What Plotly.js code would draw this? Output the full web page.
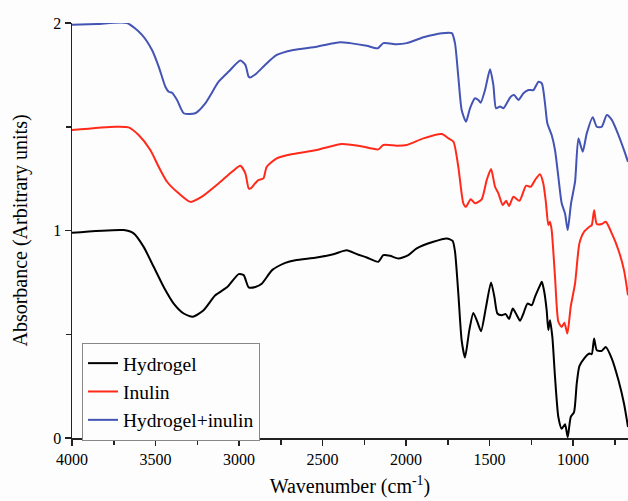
<!DOCTYPE html>
<html>
<head>
<meta charset="utf-8">
<script src="https://cdn.plot.ly/plotly-3.0.1.min.js"></script>
<style>html,body{margin:0;padding:0;background:#fdfdfd;}#chart{width:628px;height:501px;}</style>
</head>
<body>
<div id="chart"></div>
<script>
// Hydrogel (black)
const hydrogelWn = [4000,3691,3631,3571,3511,3451,3391,3331,3277,3212,3142,3072,3002,2972,2942,2902,2862,2802,2723,2663,2535,2435,2355,2295,2235,2166,2136,2096,2046,1986,1936,1836,1756,1721,1707,1687,1667,1647,1621,1597,1573,1551,1521,1491,1471,1453,1427,1403,1383,1361,1337,1317,1297,1273,1247,1228,1202,1187,1174,1158,1148,1138,1124,1108,1088,1068,1048,1032,1014,994,978,962,934,902,888,874,858,828,804,768,728,695,671];
const hydrogelAbs = [0.989,1.002,0.986,0.921,0.825,0.728,0.648,0.600,0.584,0.616,0.688,0.726,0.790,0.785,0.726,0.728,0.745,0.809,0.844,0.857,0.870,0.886,0.905,0.886,0.870,0.849,0.881,0.878,0.865,0.881,0.914,0.946,0.962,0.950,0.900,0.697,0.471,0.388,0.520,0.603,0.560,0.515,0.632,0.750,0.680,0.600,0.592,0.597,0.573,0.624,0.592,0.565,0.600,0.648,0.640,0.680,0.728,0.753,0.712,0.616,0.520,0.568,0.487,0.294,0.101,0.045,0.066,0.005,0.101,0.125,0.262,0.346,0.383,0.407,0.404,0.479,0.423,0.420,0.439,0.383,0.278,0.166,0.053];

// Inulin (red)
const inulinWn = [4000,3741,3661,3601,3531,3481,3431,3361,3291,3222,3122,3042,2992,2962,2942,2930,2904,2884,2854,2834,2774,2675,2535,2385,2275,2166,2136,2056,1996,1896,1786,1746,1716,1687,1657,1641,1613,1587,1547,1517,1491,1467,1447,1421,1401,1383,1357,1321,1281,1253,1228,1198,1178,1162,1148,1138,1128,1108,1088,1068,1052,1034,1014,988,962,934,902,888,874,858,828,804,768,728,695,671];
const inulinAbs = [1.484,1.500,1.497,1.460,1.388,1.307,1.235,1.179,1.138,1.163,1.227,1.283,1.312,1.275,1.203,1.203,1.227,1.243,1.251,1.307,1.348,1.369,1.388,1.417,1.407,1.391,1.412,1.409,1.412,1.444,1.465,1.444,1.428,1.307,1.131,1.114,1.151,1.131,1.150,1.243,1.296,1.211,1.179,1.123,1.143,1.118,1.163,1.143,1.216,1.211,1.243,1.271,1.227,1.131,1.026,1.042,1.002,0.777,0.560,0.535,0.555,0.504,0.632,0.745,0.938,0.994,1.018,1.026,1.098,1.031,1.031,1.042,0.986,0.905,0.809,0.688];

// Hydrogel+inulin (blue)
const mixWn = [4000,3850,3671,3581,3521,3481,3441,3421,3401,3371,3331,3262,3202,3122,3062,2992,2962,2942,2930,2894,2844,2774,2675,2535,2395,2335,2235,2170,2136,2056,1996,1896,1786,1726,1707,1687,1667,1641,1617,1587,1567,1553,1527,1497,1477,1461,1437,1417,1397,1373,1353,1327,1297,1267,1237,1207,1187,1168,1154,1128,1108,1088,1068,1048,1032,1012,988,968,942,918,882,858,828,798,768,728,688,671];
const mixAbs = [1.991,1.995,2.0,1.943,1.870,1.79,1.693,1.669,1.664,1.629,1.565,1.565,1.613,1.717,1.766,1.819,1.798,1.741,1.738,1.758,1.798,1.846,1.870,1.886,1.907,1.903,1.890,1.878,1.903,1.898,1.903,1.931,1.951,1.951,1.903,1.741,1.581,1.524,1.589,1.637,1.629,1.616,1.677,1.777,1.701,1.589,1.597,1.589,1.613,1.645,1.653,1.629,1.661,1.677,1.677,1.717,1.709,1.613,1.517,1.460,1.388,1.259,1.131,1.082,1.002,1.131,1.235,1.444,1.380,1.468,1.546,1.500,1.500,1.557,1.533,1.460,1.372,1.331];

const seriesNames = ['Hydrogel','Inulin','Hydrogel+inulin'];
const seriesColors = ['#000000','#ff2a1a','#4354b4'];

const xTickVals = [4000,3500,3000,2500,2000,1500,1000];
const yTickVals = [0,1,2];

const serif = 'Liberation Serif, Times New Roman, serif';
const data = [
  [hydrogelWn, hydrogelAbs],
  [inulinWn, inulinAbs],
  [mixWn, mixAbs]
].map((d, i) => ({
  type: 'scatter', mode: 'lines', x: d[0], y: d[1], name: seriesNames[i],
  line: {color: seriesColors[i], width: 2, shape: 'spline', smoothing: 0.6},
  cliponaxis: false
}));

const axisCommon = {
  showgrid: false, zeroline: false, showline: true, linecolor: '#222', linewidth: 1.5,
  ticks: 'outside', ticklen: 6, tickwidth: 1.5, tickcolor: '#222',
  tickfont: {family: serif, size: 16, color: '#000'}
};

const layout = {
  width: 628, height: 501,
  margin: {l: 72, r: 0, t: 23, b: 63},
  paper_bgcolor: '#fdfdfd', plot_bgcolor: '#fdfdfd',
  showlegend: true,
  legend: {
    x: 0.018, y: 0.229, xanchor: 'left', yanchor: 'top',
    bgcolor: '#fdfdfd', bordercolor: '#888', borderwidth: 1,
    font: {family: serif, size: 19.5, color: '#000'},
    tracegroupgap: 0
  },
  xaxis: Object.assign({}, axisCommon, {
    range: [4000, 671], tickvals: xTickVals,
    minor: {dtick: 250, tick0: 0, ticks: 'outside', ticklen: 5, tickwidth: 1.5, tickcolor: '#222'},
    title: {text: 'Wavenumber (cm<sup>-1</sup>)', font: {family: serif, size: 20, color: '#000'}, standoff: 12}
  }),
  yaxis: Object.assign({}, axisCommon, {
    range: [0, 2], tickvals: yTickVals,
    minor: {dtick: 0.5, tick0: 0, ticks: 'outside', ticklen: 5, tickwidth: 1.5, tickcolor: '#222'},
    title: {text: 'Absorbance (Arbitrary units)', font: {family: serif, size: 20, color: '#000'}, standoff: 20}
  })
};

Plotly.newPlot('chart', data, layout, {displayModeBar: false, staticPlot: true});
</script>
</body>
</html>
